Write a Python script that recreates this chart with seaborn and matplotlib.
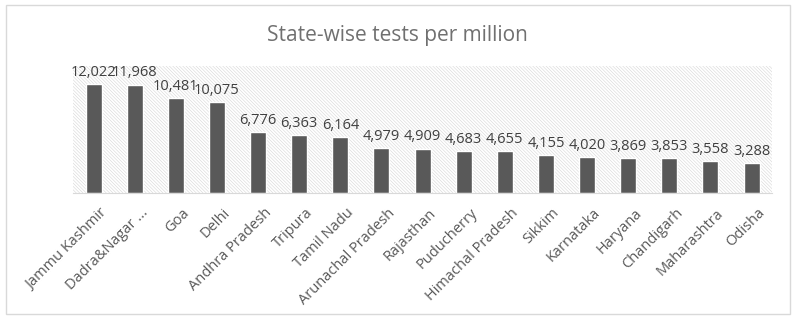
import matplotlib
matplotlib.use("Agg")
import matplotlib.pyplot as plt
import matplotlib.transforms as mtransforms
from matplotlib.patches import Rectangle
import seaborn as sns
import pandas as pd

states = ["Jammu Kashmir", "Dadra&Nagar ...", "Goa", "Delhi", "Andhra Pradesh",
          "Tripura", "Tamil Nadu", "Arunachal Pradesh", "Rajasthan", "Puducherry",
          "Himachal Pradesh", "Sikkim", "Karnataka", "Haryana", "Chandigarh",
          "Maharashtra", "Odisha"]
tests_per_million = [12022, 11968, 10481, 10075, 6776, 6363, 6164, 4979, 4909,
                     4683, 4655, 4155, 4020, 3869, 3853, 3558, 3288]
title = "State-wise tests per million"

df = pd.DataFrame({"state": states, "tests": tests_per_million})

sns.set_theme(style="white")
plt.rcParams["font.family"] = ["Open Sans", "DejaVu Sans"]
plt.rcParams["hatch.linewidth"] = 0.4
plt.rcParams["hatch.color"] = "#d6d6d6"

fig = plt.figure(figsize=(7.99, 3.24), dpi=100)
ax = fig.add_axes([0.0914, 0.404, 0.875, 0.392])

# hatched plot-area background
bg = Rectangle((0, 0), 1, 1, transform=ax.transAxes, facecolor="white",
               edgecolor="#d6d6d6", hatch="\\" * 10, linewidth=0, zorder=0)
ax.add_patch(bg)

sns.barplot(data=df, x="state", y="tests", color="#595959", saturation=1,
            width=0.39, ax=ax, zorder=2)

ax.set_ylim(0, 14000)
ax.set_xlim(-0.5, len(states) - 0.5)
ax.set_yticks([])
ax.set_xlabel("")
ax.set_ylabel("")
for s in ["top", "left", "right"]:
    ax.spines[s].set_visible(False)
ax.spines["bottom"].set_color("#d9d9d9")
ax.spines["bottom"].set_linewidth(0.8)

for i, v in enumerate(tests_per_million):
    ax.text(i, v + 450, f"{v:,}", ha="center", va="bottom", fontsize=10.5,
            color="#404040", zorder=3)

ax.set_xticks(range(len(states)))
ax.set_xticklabels(states, rotation=45, ha="right", rotation_mode="anchor",
                   fontsize=10.5, color="#595959")
ax.tick_params(axis="x", length=0, pad=9)
shift = mtransforms.ScaledTranslation(6 / 100, 0, fig.dpi_scale_trans)
for lbl in ax.get_xticklabels():
    lbl.set_transform(lbl.get_transform() + shift)

fig.text(0.498, 0.89, title, ha="center", va="center", fontsize=15,
         color="#707070")

# chart-area frame
fig.patches.append(Rectangle((6 / 799, 10 / 324), 784 / 799, 309 / 324,
                             transform=fig.transFigure, fill=False,
                             edgecolor="#d9d9d9", linewidth=1))

fig.savefig("out.png", dpi=100)
